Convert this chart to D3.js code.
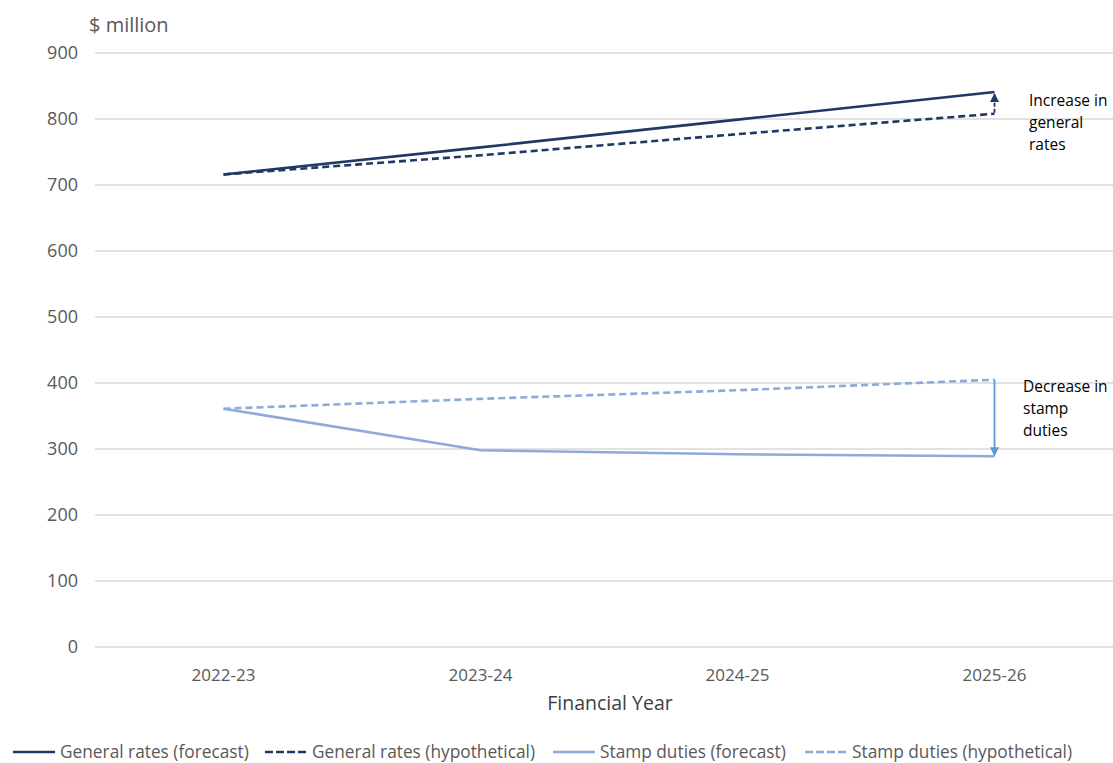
<!DOCTYPE html>
<html>
<head>
<meta charset="utf-8">
<script src="https://cdn.jsdelivr.net/npm/d3@7"></script>
<style>
  body { margin: 0; background: #fff; }
  text { font-family: "Open Sans", "Noto Sans", sans-serif; }
</style>
</head>
<body>
<script>
//============Line Chart=========//
var years = ['2022-23', '2023-24', '2024-25', '2025-26'];
var generalForecast = [716, 757, 799, 841];
var generalHypothetical = [716, 745, 777, 808];
var stampForecast = [361, 298, 292, 289];
var stampHypothetical = [361, 376, 389, 405];
var yTicks = [0, 100, 200, 300, 400, 500, 600, 700, 800, 900];

var darkBlue = '#1F3864',
  lightBlue = '#8EA9DB',
  arrowBlue = '#5B9BD5',
  gridColor = '#d9d9d9',
  tickColor = '#595959';

var width = 1113, height = 763;
var margin = {top: 53, right: -10, bottom: 116, left: 95};

var svg = d3.select('body').append('svg')
  .attr('width', width)
  .attr('height', height);

// scales
var x = d3.scaleBand()
  .domain(years)
  .range([margin.left, width - margin.right]);

var y = d3.scaleLinear()
  .domain([0, 900])
  .range([height - margin.bottom, margin.top]);

var cx = function(d) { return x(d) + x.bandwidth() / 2; };

// gridlines
svg.append('g').selectAll('line')
  .data(yTicks)
  .enter().append('line')
  .attr('x1', margin.left)
  .attr('x2', width)
  .attr('y1', function(d) { return y(d); })
  .attr('y2', function(d) { return y(d); })
  .style('stroke', gridColor)
  .style('stroke-width', 1.3);

// y labels
svg.append('g').selectAll('text')
  .data(yTicks)
  .enter().append('text')
  .attr('x', 78)
  .attr('y', function(d) { return y(d); })
  .attr('dy', '.35em')
  .attr('text-anchor', 'end')
  .style('fill', tickColor)
  .style('font-size', '18px')
  .text(function(d) { return d; });

// x labels
svg.append('g').selectAll('text')
  .data(years)
  .enter().append('text')
  .attr('x', cx)
  .attr('y', 681)
  .attr('text-anchor', 'middle')
  .style('fill', tickColor)
  .style('font-size', '17px')
  .text(function(d) { return d; });

svg.append('text')
  .attr('x', 610)
  .attr('y', 710)
  .attr('text-anchor', 'middle')
  .style('fill', '#404040')
  .style('font-size', '19.5px')
  .text('Financial Year');

svg.append('text')
  .attr('x', 89)
  .attr('y', 32)
  .style('fill', tickColor)
  .style('font-size', '20px')
  .text('$ million');

// series
var series = [
  {name: 'General rates (forecast)', values: generalForecast, color: darkBlue, dash: null},
  {name: 'General rates (hypothetical)', values: generalHypothetical, color: darkBlue, dash: '7,4'},
  {name: 'Stamp duties (forecast)', values: stampForecast, color: lightBlue, dash: null},
  {name: 'Stamp duties (hypothetical)', values: stampHypothetical, color: lightBlue, dash: '7,4'}
];

var line = d3.line()
  .x(function(d, i) { return cx(years[i]); })
  .y(function(d) { return y(d); });

// arrows
var defs = svg.append('defs');
function marker(id, color) {
  defs.append('marker')
    .attr('id', id)
    .attr('viewBox', '0 0 10 10')
    .attr('refX', 9).attr('refY', 5)
    .attr('markerWidth', 5).attr('markerHeight', 5)
    .attr('orient', 'auto')
    .append('path')
    .attr('d', 'M0,0L10,5L0,10Z')
    .style('fill', color);
}
marker('arrDark', darkBlue);
marker('arrLight', arrowBlue);

var last = years.length - 1;
var ax = cx(years[last]);

svg.append('g').selectAll('path')
  .data(series)
  .enter().append('path')
  .attr('d', function(d) { return line(d.values); })
  .style('fill', 'none')
  .style('stroke', function(d) { return d.color; })
  .style('stroke-width', 2.6)
  .style('stroke-dasharray', function(d) { return d.dash; });

svg.append('line')
  .attr('x1', ax).attr('x2', ax)
  .attr('y1', y(generalHypothetical[last]) - 1)
  .attr('y2', y(generalForecast[last]) + 2)
  .style('stroke', darkBlue)
  .style('stroke-width', 1.8)
  .style('stroke-dasharray', '4,2')
  .attr('marker-end', 'url(#arrDark)');

svg.append('line')
  .attr('x1', ax).attr('x2', ax)
  .attr('y1', y(stampHypothetical[last]))
  .attr('y2', y(stampForecast[last]) - 1)
  .style('stroke', arrowBlue)
  .style('stroke-width', 1.8)
  .attr('marker-end', 'url(#arrLight)');

// annotations
function note(lines, x0, y0) {
  svg.append('g').selectAll('text')
    .data(lines)
    .enter().append('text')
    .attr('x', x0)
    .attr('y', function(d, i) { return y0 + i * 22; })
    .style('fill', '#000')
    .style('font-size', '15.5px')
    .text(function(d) { return d; });
}
note(['Increase in', 'general', 'rates'], 1029, 106);
note(['Decrease in', 'stamp', 'duties'], 1023, 392);

// legend
var legendX = [13, 265, 553, 805];
var legend = svg.append('g').selectAll('g')
  .data(series)
  .enter().append('g')
  .attr('transform', function(d, i) { return 'translate(' + legendX[i] + ',752)'; });

legend.append('line')
  .attr('x1', 0).attr('x2', 42)
  .style('stroke', function(d) { return d.color; })
  .style('stroke-width', 2.6)
  .style('stroke-dasharray', function(d) { return d.dash ? '8,3' : null; });

legend.append('text')
  .attr('x', 47)
  .attr('dy', '.35em')
  .style('fill', tickColor)
  .style('font-size', '17.3px')
  .text(function(d) { return d.name; });
</script>
</body>
</html>
